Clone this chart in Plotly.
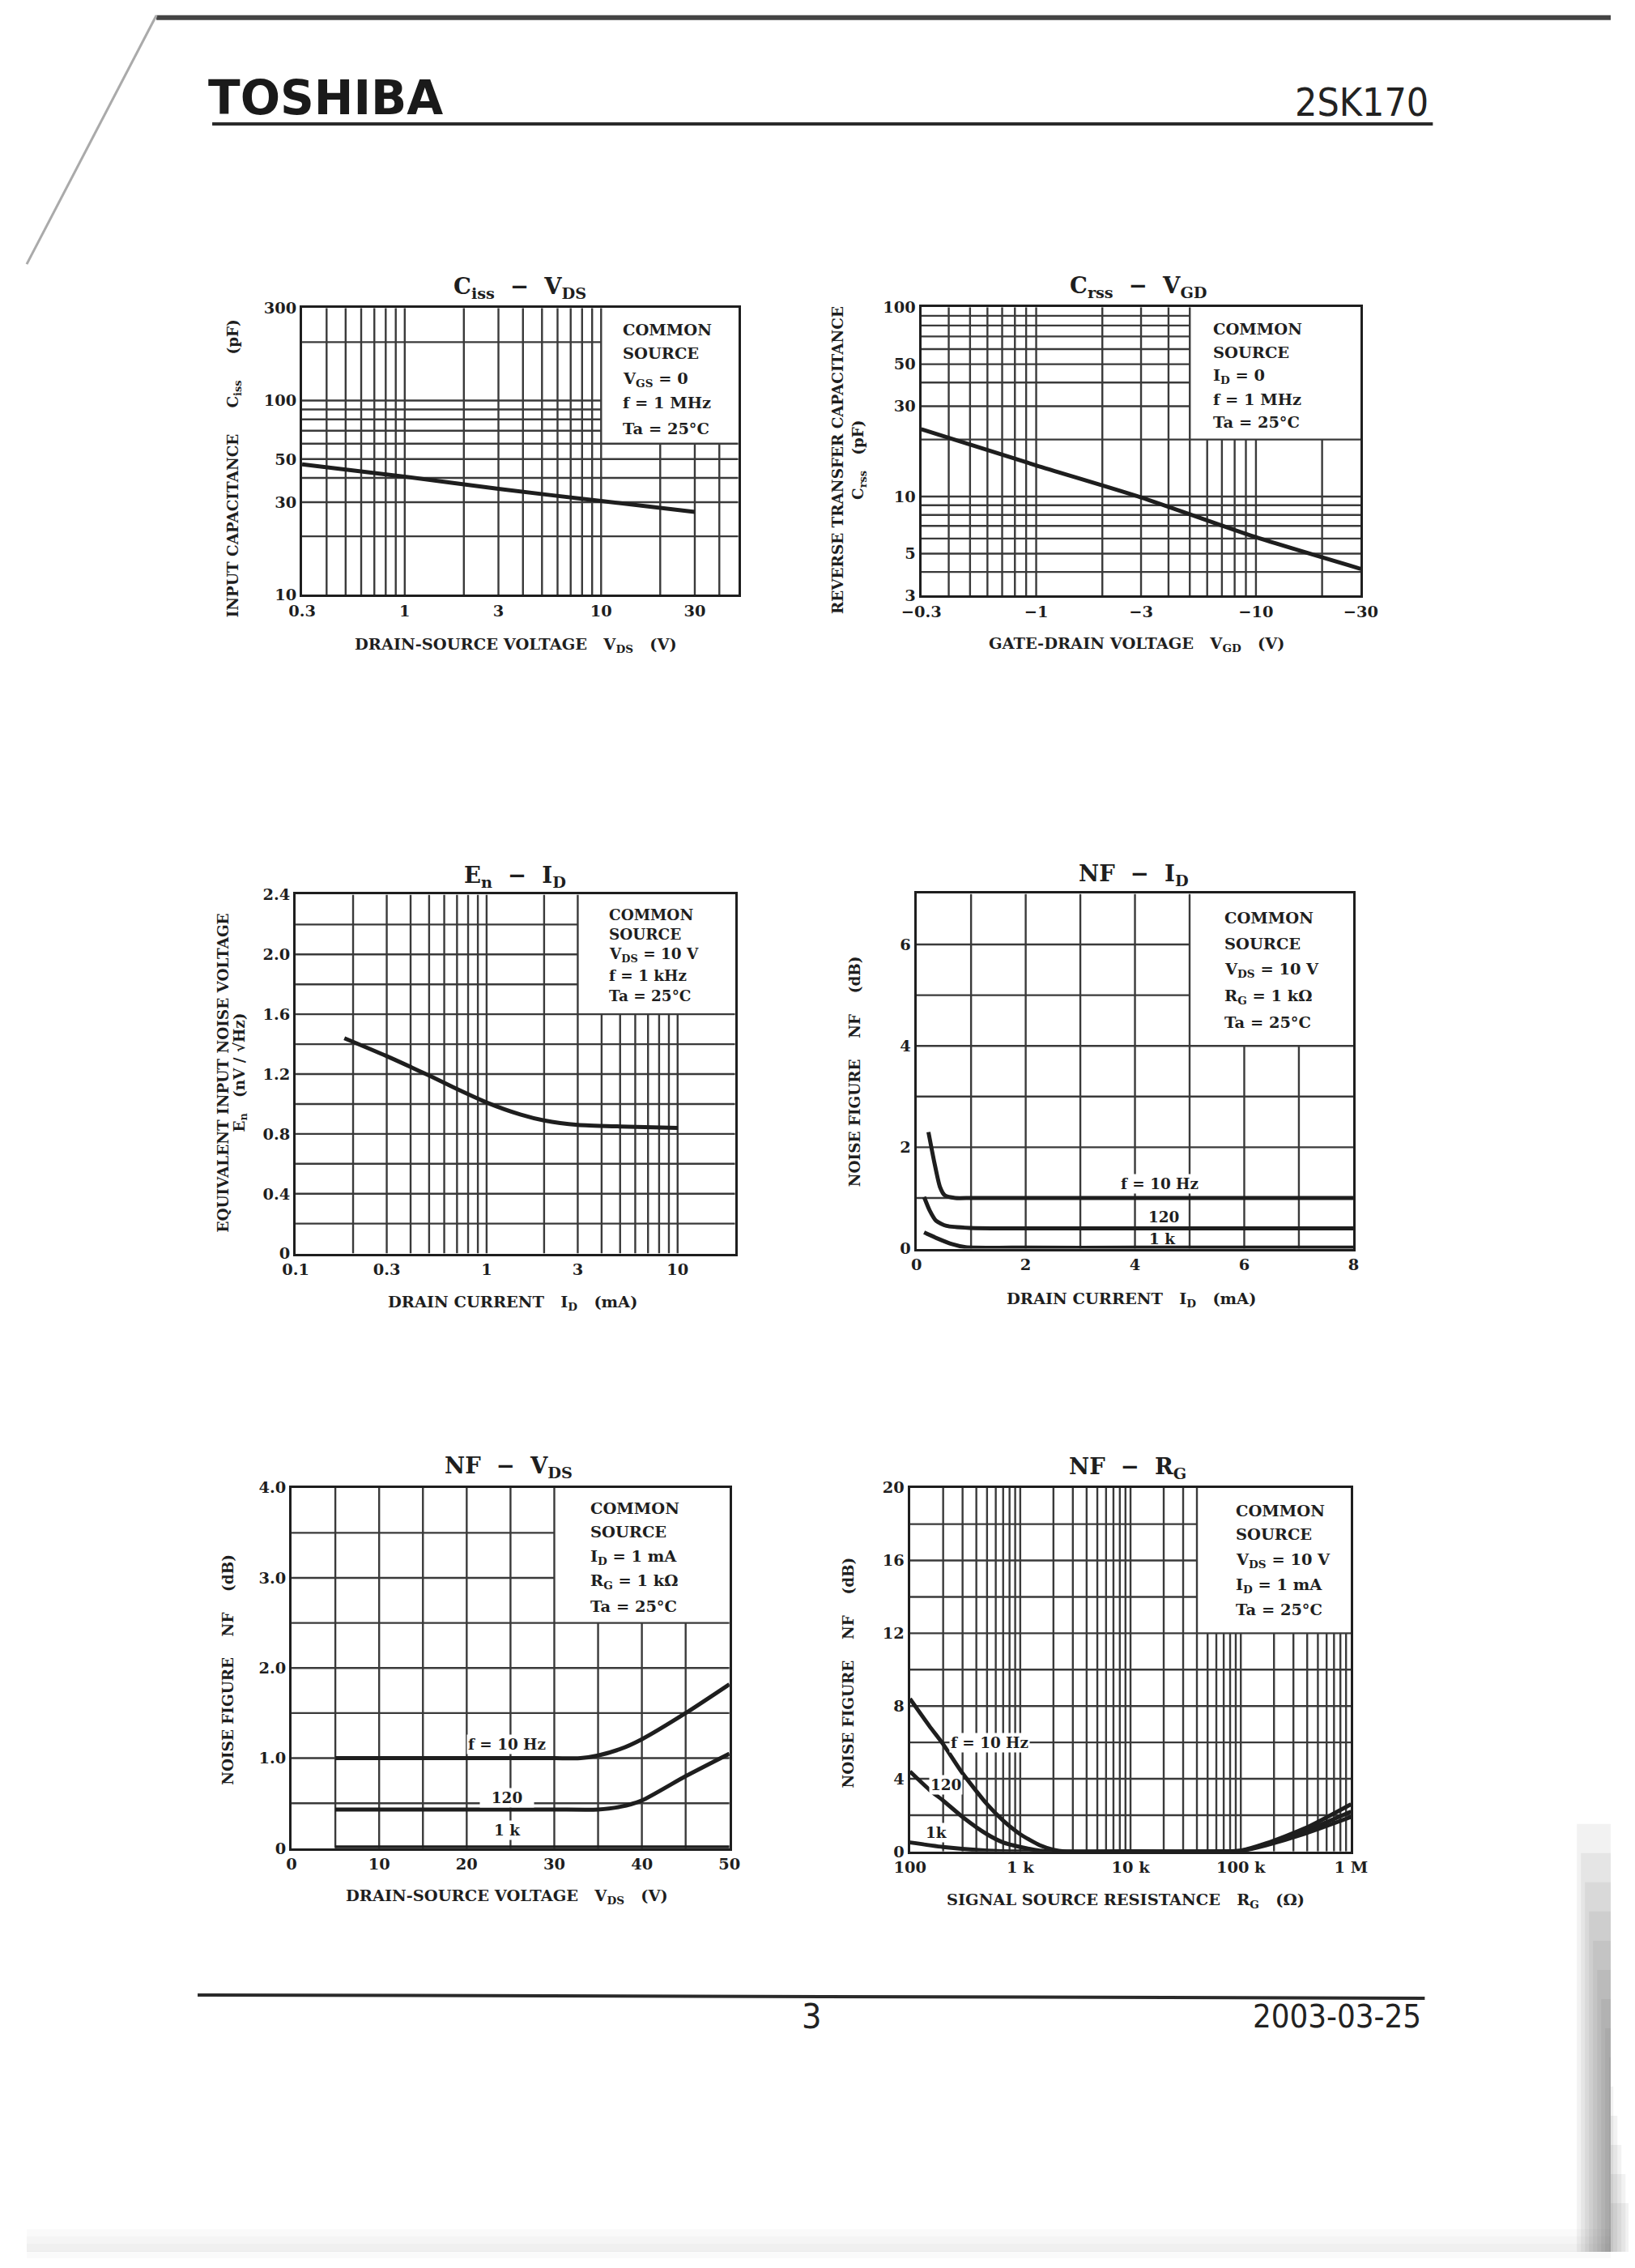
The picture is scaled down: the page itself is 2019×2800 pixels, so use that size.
import math
import plotly.graph_objects as go

W, H = 2019, 2800          # page (browser window) size
OFF = 8                    # default body margin of the html page
FW, FH = W - 2 * OFF, H - 2 * OFF
# observed placement of the page in the photograph: obs = A + B * page
XA, XB = 22.0, 0.977
YA, YB = 10.0, 0.9914
FS = 1.02                  # font compensation
INK = "#1e1e1e"
GRID = "#3a3a3a"
SERIF = "DejaVu Serif"
NB = "\u00a0"

# ---------------- data ----------------
# Ciss - VDS
ciss_vds = [0.3, 1, 3, 10, 30]
ciss_pf = [47.0, 40.6, 35.1, 30.4, 26.7]

# Crss - VGD
crss_vgd = [-0.3, -1, -3, -10, -30]
crss_pf = [22.7, 14.6, 9.9, 6.1, 4.15]

# En - ID
en_id = [0.18, 0.3, 0.5, 0.7, 1.0, 1.5, 2.0, 3.0, 5.0, 10.0]
en_nv = [1.44, 1.32, 1.19, 1.10, 1.01, 0.93, 0.89, 0.86, 0.85, 0.84]

# NF - ID
nfid_id_10 = [0.22, 0.33, 0.43, 0.52, 0.71, 1, 2, 4, 6, 8]
nfid_nf_10 = [2.3, 1.69, 1.22, 1.05, 1.0, 1.0, 1.0, 1.0, 1.0, 1.0]
nfid_id_120 = [0.14, 0.24, 0.36, 0.55, 0.97, 2, 4, 6, 8]
nfid_nf_120 = [1.02, 0.76, 0.55, 0.45, 0.41, 0.40, 0.40, 0.40, 0.40]
nfid_id_1k = [0.14, 0.39, 0.65, 0.9, 2, 4, 6, 8]
nfid_nf_1k = [0.32, 0.20, 0.09, 0.03, 0.02, 0.02, 0.02, 0.02]

# NF - VDS
nfvds_v_10 = [5, 10, 20, 30, 33, 35, 37.5, 40, 45, 50]
nfvds_nf_10 = [1.0, 1.0, 1.0, 1.0, 1.0, 1.03, 1.1, 1.21, 1.5, 1.82]
nfvds_v_120 = [5, 10, 20, 30, 35, 37.5, 40, 45, 50]
nfvds_nf_120 = [0.43, 0.43, 0.43, 0.43, 0.43, 0.46, 0.53, 0.80, 1.05]
nfvds_v_1k = [5, 20, 35, 50]
nfvds_nf_1k = [0.01, 0.01, 0.01, 0.01]

# NF - RG
nfrg_r_10 = [100, 150, 200, 300, 500, 700, 1000, 1500, 2000, 2500, 10000, 70000, 100000, 170000, 390000, 1000000]
nfrg_nf_10 = [8.4, 6.9, 5.9, 4.3, 2.6, 1.7, 0.95, 0.35, 0.1, 0.0, 0.0, 0.0, 0.05, 0.45, 1.3, 2.6]
nfrg_r_120 = [100, 150, 200, 300, 500, 700, 1000, 1500, 2000, 10000, 70000, 100000, 170000, 390000, 1000000]
nfrg_nf_120 = [4.4, 3.4, 2.8, 1.9, 0.95, 0.5, 0.25, 0.05, 0.0, 0.0, 0.0, 0.04, 0.4, 1.15, 2.2]
nfrg_r_1k = [100, 200, 500, 1000, 10000, 70000, 100000, 170000, 390000, 1000000]
nfrg_nf_1k = [0.5, 0.25, 0.05, 0.0, 0.0, 0.0, 0.03, 0.35, 1.0, 1.9]

# tick labels
t1x = [0.3, 1, 3, 10, 30]; t1xl = ["0.3", "1", "3", "10", "30"]
t1y = [10, 30, 50, 100, 300]; t1yl = ["10", "30", "50", "100", "300"]
t2x = [0.3, 1, 3, 10, 30]; t2xl = ["\u22120.3", "\u22121", "\u22123", "\u221210", "\u221230"]
t2y = [3, 5, 10, 30, 50, 100]; t2yl = ["3", "5", "10", "30", "50", "100"]
t3x = [0.1, 0.3, 1, 3, 10]; t3xl = ["0.1", "0.3", "1", "3", "10"]
t3y = [0, 0.4, 0.8, 1.2, 1.6, 2.0, 2.4]; t3yl = ["0", "0.4", "0.8", "1.2", "1.6", "2.0", "2.4"]
t4x = [0, 2, 4, 6, 8]; t4xl = ["0", "2", "4", "6", "8"]
t4y = [0, 2, 4, 6]; t4yl = ["0", "2", "4", "6"]
t5x = [0, 10, 20, 30, 40, 50]; t5xl = ["0", "10", "20", "30", "40", "50"]
t5y = [0, 1, 2, 3, 4]; t5yl = ["0", "1.0", "2.0", "3.0", "4.0"]
t6x = [100, 1000, 10000, 100000, 1000000]; t6xl = ["100", "1 k", "10 k", "100 k", "1 M"]
t6y = [0, 4, 8, 12, 16, 20]; t6yl = ["0", "4", "8", "12", "16", "20"]

# ---------------- layout helpers (reference pixels -> paper) ----------------
def px(x):
    page = (x - XA) / XB
    return (page - OFF) / FW


def py(y):
    page = (y - YA) / YB
    return 1 - (page - OFF) / FH


def fs(s):
    return round(s * FS, 1)


def lg(v):
    return math.log10(v)


fig = go.Figure()
annotations = []
shapes = []

TICKFONT = dict(family=SERIF, size=fs(19), color=INK, weight="bold")


def axis_names(i):
    if i == 1:
        return "xaxis", "yaxis", "x", "y"
    return f"xaxis{i}", f"yaxis{i}", f"x{i}", f"y{i}"


def setup_axes(i, box, xtype, xr, ytype, yr, xtv, xtt, ytv, ytt):
    xa, ya, xr_, yr_ = axis_names(i)
    x0, x1, y0, y1 = box
    xrange = [lg(xr[0]), lg(xr[1])] if xtype == "log" else xr
    yrange = [lg(yr[0]), lg(yr[1])] if ytype == "log" else yr
    common = dict(showgrid=False, zeroline=False, showline=True, mirror=True,
                  linewidth=3, linecolor=INK, ticks="", tickfont=TICKFONT,
                  fixedrange=True)
    fig.update_layout({
        xa: dict(domain=[px(x0), px(x1)], anchor=yr_, type=xtype, range=xrange,
                 tickvals=xtv, ticktext=xtt, **common),
        ya: dict(domain=[py(y1), py(y0)], anchor=xr_, type=ytype, range=yrange,
                 tickvals=ytv, ticktext=ytt, **common),
    })


def grid(i, xr, yr, vfull, vpart, vpart_top, hfull, hpart, hpart_right):
    xs, ys = [], []
    for v in vfull:
        xs += [v, v, None]; ys += [yr[0], yr[1], None]
    for v in vpart:
        xs += [v, v, None]; ys += [yr[0], vpart_top, None]
    for h in hfull:
        xs += [xr[0], xr[1], None]; ys += [h, h, None]
    for h in hpart:
        xs += [xr[0], hpart_right, None]; ys += [h, h, None]
    xa, ya = axis_names(i)[2:]
    fig.add_trace(go.Scatter(x=xs, y=ys, mode="lines", xaxis=xa, yaxis=ya,
                             line=dict(color=GRID, width=2.4),
                             hoverinfo="skip", showlegend=False))


def curve(i, x, y, width=5):
    xa, ya = axis_names(i)[2:]
    fig.add_trace(go.Scatter(x=x, y=y, mode="lines", xaxis=xa, yaxis=ya,
                             line=dict(color=INK, width=width, shape="spline", smoothing=0.6),
                             hoverinfo="skip", showlegend=False))


def text_paper(txt, x, y, size=20, xanchor="center", angle=0, weight="bold"):
    annotations.append(dict(text=txt, x=px(x), y=py(y), xref="paper", yref="paper",
                            xanchor=xanchor, yanchor="middle", showarrow=False,
                            textangle=angle,
                            font=dict(family=SERIF, size=fs(size), color=INK, weight=weight)))


def box_text(lines, x, ys, size=19):
    for t, y in zip(lines, ys):
        text_paper(t, x, y, size=size, xanchor="left")


def label_data(i, txt, x, y, log_x=False, bg=True, size=18, xanchor="center"):
    xa, ya = axis_names(i)[2:]
    annotations.append(dict(text=txt, x=lg(x) if log_x else x, y=y, xref=xa, yref=ya,
                            xanchor=xanchor, yanchor="middle", showarrow=False,
                            bgcolor="white" if bg else "rgba(0,0,0,0)", borderpad=1,
                            font=dict(family=SERIF, size=fs(size), color=INK, weight="bold")))


sp2 = NB * 2
sp3 = NB * 3
TS = 27     # chart title size
AS = 19     # x axis title size
YS = 18     # y axis title size

# ---------------- chart 1 : Ciss - VDS ----------------
setup_axes(1, (370, 909, 379, 733), "log", [0.3, 50], "log", [10, 300], t1x, t1xl, t1y, t1yl)
grid(1, [0.3, 50], [10, 300],
     [0.4, 0.5, 0.6, 0.7, 0.8, 0.9, 1, 2, 3, 4, 5, 6, 7, 8, 9, 10], [20, 30, 40], 60,
     [20, 30, 40, 50, 60], [70, 80, 90, 100, 200], 10)
curve(1, ciss_vds, ciss_pf)
text_paper("C<sub>iss</sub>" + sp2 + "\u2212" + sp2 + "V<sub>DS</sub>", 639, 354, size=TS)
box_text(["COMMON", "SOURCE", "V<sub>GS</sub> = 0", "f = 1 MHz", "Ta = 25\u00b0C"], 764, [406, 435, 467, 496, 528])
text_paper("DRAIN-SOURCE VOLTAGE" + sp3 + "V<sub>DS</sub>" + sp3 + "(V)", 634, 795, size=AS)
text_paper("INPUT CAPACITANCE" + NB * 5 + "C<sub>iss</sub>" + NB * 5 + "(pF)", 286, 577, size=YS, angle=-90)

# ---------------- chart 2 : Crss - VGD ----------------
setup_axes(2, (1135, 1678, 378, 734), "log", [0.3, 30], "log", [3, 100], t2x, t2xl, t2y, t2yl)
grid(2, [0.3, 30], [3, 100],
     [0.4, 0.5, 0.6, 0.7, 0.8, 0.9, 1, 2, 3, 4, 5], [6, 7, 8, 9, 10, 20], 20,
     [4, 5, 6, 7, 8, 9, 10, 20], [30, 40, 50, 60, 70, 80, 90], 5)
curve(2, [-v for v in crss_vgd], crss_pf)
text_paper("C<sub>rss</sub>" + sp2 + "\u2212" + sp2 + "V<sub>GD</sub>", 1403, 353, size=TS)
box_text(["COMMON", "SOURCE", "I<sub>D</sub> = 0", "f = 1 MHz", "Ta = 25\u00b0C"], 1494, [405, 434, 463, 492, 520])
text_paper("GATE-DRAIN VOLTAGE" + sp3 + "V<sub>GD</sub>" + sp3 + "(V)", 1401, 794, size=AS)
text_paper("REVERSE TRANSFER CAPACITANCE", 1032, 567, size=YS, angle=-90)
text_paper("C<sub>rss</sub>" + sp3 + "(pF)", 1059, 567, size=YS, angle=-90)

# ---------------- chart 3 : En - ID ----------------
setup_axes(3, (362, 905, 1103, 1546), "log", [0.1, 20], "linear", [0, 2.4], t3x, t3xl, t3y, t3yl)
grid(3, [0.1, 20], [0, 2.4],
     [0.2, 0.3, 0.4, 0.5, 0.6, 0.7, 0.8, 0.9, 1, 2, 3], [4, 5, 6, 7, 8, 9, 10], 1.6,
     [0.2, 0.4, 0.6, 0.8, 1.0, 1.2, 1.4, 1.6], [1.8, 2.0, 2.2], 3)
curve(3, en_id, en_nv)
text_paper("E<sub>n</sub>" + sp2 + "\u2212" + sp2 + "I<sub>D</sub>", 633, 1081, size=TS)
box_text(["COMMON", "SOURCE", "V<sub>DS</sub> = 10 V", "f = 1 kHz", "Ta = 25\u00b0C"], 747, [1128, 1152, 1178, 1203, 1228], size=18)
text_paper("DRAIN CURRENT" + sp3 + "I<sub>D</sub>" + sp3 + "(mA)", 630, 1607, size=AS)
text_paper("EQUIVALENT INPUT NOISE VOLTAGE", 272, 1323, size=YS, angle=-90)
text_paper("E<sub>n</sub>" + sp3 + "(nV / \u221aHz)", 293, 1323, size=YS, angle=-90)

# ---------------- chart 4 : NF - ID ----------------
setup_axes(4, (1129, 1669, 1102, 1540), "linear", [0, 8], "linear", [0, 7], t4x, t4xl, t4y, t4yl)
grid(4, [0, 8], [0, 7],
     [1, 2, 3, 4, 5], [6, 7], 4,
     [1, 2, 3, 4], [5, 6], 5)
curve(4, nfid_id_10, nfid_nf_10)
curve(4, nfid_id_120, nfid_nf_120)
curve(4, nfid_id_1k, nfid_nf_1k)
label_data(4, "f = 10 Hz", 4.45, 1.28)
label_data(4, "120", 4.52, 0.63, bg=False)
label_data(4, "1 k", 4.5, 0.2, bg=False)
text_paper("NF" + sp2 + "\u2212" + sp2 + "I<sub>D</sub>", 1397, 1079, size=TS)
box_text(["COMMON", "SOURCE", "V<sub>DS</sub> = 10 V", "R<sub>G</sub> = 1 k\u03a9", "Ta = 25\u00b0C"], 1508, [1132, 1164, 1196, 1229, 1261])
text_paper("DRAIN CURRENT" + sp3 + "I<sub>D</sub>" + sp3 + "(mA)", 1394, 1603, size=AS)
text_paper("NOISE FIGURE" + NB * 4 + "NF" + NB * 4 + "(dB)", 1053, 1321, size=YS, angle=-90)

# ---------------- chart 5 : NF - VDS ----------------
setup_axes(5, (357, 898, 1835, 2280), "linear", [0, 50], "linear", [0, 4], t5x, t5xl, t5y, t5yl)
grid(5, [0, 50], [0, 4],
     [5, 10, 15, 20, 25, 30], [35, 40, 45], 2.5,
     [0.5, 1.0, 1.5, 2.0, 2.5], [3.0, 3.5], 30)
curve(5, nfvds_v_10, nfvds_nf_10)
curve(5, nfvds_v_120, nfvds_nf_120)
curve(5, nfvds_v_1k, nfvds_nf_1k)
label_data(5, "f = 10 Hz", 24.6, 1.15)
label_data(5, NB * 2 + "120" + NB * 2, 24.6, 0.56)
label_data(5, "1 k", 24.6, 0.2)
text_paper("NF" + sp2 + "\u2212" + sp2 + "V<sub>DS</sub>", 625, 1810, size=TS)
box_text(["COMMON", "SOURCE", "I<sub>D</sub> = 1 mA", "R<sub>G</sub> = 1 k\u03a9", "Ta = 25\u00b0C"], 724, [1861, 1890, 1921, 1951, 1982])
text_paper("DRAIN-SOURCE VOLTAGE" + sp3 + "V<sub>DS</sub>" + sp3 + "(V)", 623, 2340, size=AS)
text_paper("NOISE FIGURE" + NB * 4 + "NF" + NB * 4 + "(dB)", 279, 2060, size=YS, angle=-90)

# ---------------- chart 6 : NF - RG ----------------
v6 = sorted(m * d for d in (100, 1000, 10000, 100000) for m in range(2, 10))
v6 = sorted(v6 + [1000, 10000, 100000])
v6_full = [v for v in v6 if v <= 40000]
v6_part = [v for v in v6 if v > 40000]
setup_axes(6, (1121, 1666, 1835, 2284), "log", [100, 1000000], "linear", [0, 20], t6x, t6xl, t6y, t6yl)
grid(6, [100, 1000000], [0, 20],
     v6_full, v6_part, 12,
     [2, 4, 6, 8, 10, 12], [14, 16, 18], 40000)
curve(6, nfrg_r_10, nfrg_nf_10)
curve(6, nfrg_r_120, nfrg_nf_120)
curve(6, nfrg_r_1k, nfrg_nf_1k)
label_data(6, "f = 10 Hz", 226, 6.0, log_x=True, xanchor="left")
label_data(6, "120", 210, 3.65, log_x=True)
label_data(6, "1k", 174, 1.05, log_x=True)
text_paper("NF" + sp2 + "\u2212" + sp2 + "R<sub>G</sub>", 1390, 1811, size=TS)
box_text(["COMMON", "SOURCE", "V<sub>DS</sub> = 10 V", "I<sub>D</sub> = 1 mA", "Ta = 25\u00b0C"], 1522, [1864, 1893, 1925, 1956, 1986])
text_paper("SIGNAL SOURCE RESISTANCE" + sp3 + "R<sub>G</sub>" + sp3 + "(\u03a9)", 1387, 2345, size=AS)
text_paper("NOISE FIGURE" + NB * 4 + "NF" + NB * 4 + "(dB)", 1045, 2063, size=YS, angle=-90)

# ---------------- page header / footer ----------------
NARROW = "Liberation Sans Narrow, DejaVu Sans Condensed, Liberation Sans"
annotations.append(dict(text="TOSHIBA", x=px(252), y=py(120), xref="paper", yref="paper",
                        xanchor="left", yanchor="middle", showarrow=False,
                        font=dict(family="DejaVu Sans", size=fs(57), color="#1a1a1a", weight="bold")))
annotations.append(dict(text="2SK170", x=px(1764), y=py(125), xref="paper", yref="paper",
                        xanchor="right", yanchor="middle", showarrow=False,
                        font=dict(family=NARROW, size=fs(47), color="#222")))
annotations.append(dict(text="3", x=px(1000), y=py(2487), xref="paper", yref="paper",
                        xanchor="center", yanchor="middle", showarrow=False,
                        font=dict(family=NARROW, size=fs(42), color="#222")))
annotations.append(dict(text="2003-03-25", x=px(1755), y=py(2487), xref="paper", yref="paper",
                        xanchor="right", yanchor="middle", showarrow=False,
                        font=dict(family=NARROW, size=fs(39), color="#222")))

shapes.append(dict(type="line", xref="paper", yref="paper", x0=px(259), x1=px(1767), y0=py(152), y1=py(152),
                   line=dict(color="#2a2a2a", width=4)))
shapes.append(dict(type="line", xref="paper", yref="paper", x0=px(241), x1=px(1757), y0=py(2461), y1=py(2465),
                   line=dict(color="#2a2a2a", width=4)))
# scan edges
shapes.append(dict(type="line", xref="paper", yref="paper", x0=px(190), x1=1, y0=0.999, y1=0.999,
                   line=dict(color="#444", width=6)))
shapes.append(dict(type="line", xref="paper", yref="paper", x0=px(190), x1=0, y0=1, y1=py(325),
                   line=dict(color="#aaa", width=3)))
for k in range(14):
    shapes.append(dict(type="rect", xref="paper", yref="paper", layer="below",
                       x0=px(1945 + k * 5), x1=1, y0=0, y1=py(2250 + k * 36),
                       fillcolor="rgba(70,70,70,0.07)", line=dict(width=0)))
for k in range(5):
    shapes.append(dict(type="rect", xref="paper", yref="paper", layer="below",
                       x0=0, x1=1, y0=0, y1=py(2750 + k * 9),
                       fillcolor="rgba(90,90,90,0.03)", line=dict(width=0)))

fig.update_layout(width=FW, height=FH, margin=dict(l=0, r=0, t=0, b=0),
                  paper_bgcolor="white", plot_bgcolor="white",
                  annotations=annotations, shapes=shapes, showlegend=False)

fig.write_html("out.html", config={"displayModeBar": False, "responsive": False})
